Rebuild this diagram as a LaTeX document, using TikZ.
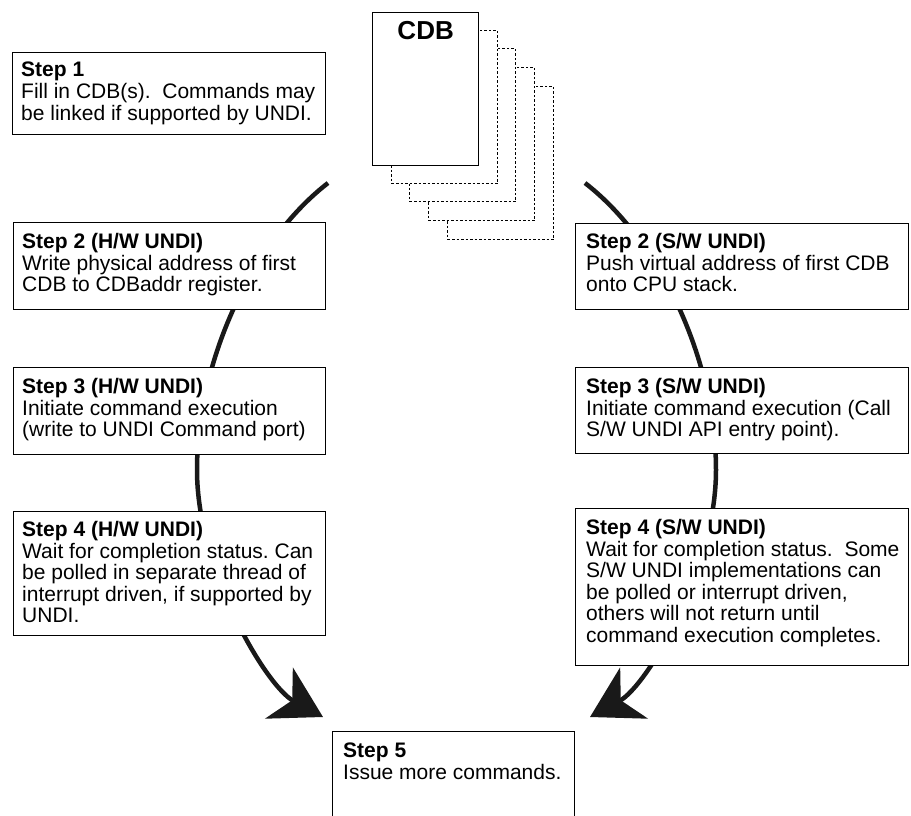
\documentclass[tikz,border=0pt]{standalone}
\usepackage{fontspec}
\setmainfont{Liberation Sans}
\usetikzlibrary{arrows.meta}
\frenchspacing
\begin{document}
\begin{tikzpicture}[x=1pt,y=-1pt,
  stepbox/.style={draw, line width=1.1pt, fill=white, inner sep=0pt, anchor=north west},
  steptext/.style={anchor=north west, inner sep=0pt, align=left, font=\fontsize{21}{21.6}\selectfont},
  page/.style={draw, line width=1.1pt, dash pattern=on 2.5pt off 2pt, fill=white, inner sep=0pt,
    anchor=north west, minimum width=106pt, minimum height=153pt},
  arc/.style={line width=4.5pt, draw=black!90},
  bigtip/.style={-{Stealth[length=50pt,width=58pt,inset=15pt]}}]
\useasboundingbox (0,0) rectangle (911,815);
% circular flow
\coordinate (la) at (328,183);
\coordinate (lm) at (197,470);
\coordinate (lt) at (323,717);
\coordinate (ra) at (585,183);
\coordinate (rm) at (716,470);
\coordinate (rt) at (590,717);
\draw[arc, bigtip] (la) .. controls (253,241) and (197,360) .. (lm)
  .. controls (197,570) and (266,686) .. (lt);
\draw[arc, bigtip] (ra) .. controls (660,241) and (716,360) .. (rm)
  .. controls (716,570) and (647,686) .. (rt);
% CDB stack
\node[page] (p5) at (447,86) {};
\node[page] (p4) at (428,67) {};
\node[page] (p3) at (409,48) {};
\node[page] (p2) at (391,30) {};
\node[page, solid, line width=1.3pt] (cdb) at (372,12) {};
\node[anchor=north, inner sep=0pt, font=\fontsize{26}{26}\bfseries\selectfont] (cdbt) at ([yshift=-9pt]cdb.north) {CDB};
% step boxes
\node[stepbox, minimum width=313pt, minimum height=82pt] (s1) at (12,52) {};
\node[steptext] (t1) at ([xshift=9pt,yshift=-10pt]s1.north west)
  {\textbf{Step 1}\\Fill in CDB(s).\ \ Commands may\\be linked if supported by UNDI.};
\node[stepbox, minimum width=312pt, minimum height=87pt] (h2) at (13,222) {};
\node[steptext] (th2) at ([xshift=9pt,yshift=-11pt]h2.north west)
  {\textbf{Step 2 (H/W UNDI)}\\Write physical address of first\\CDB to CDBaddr register.};
\node[stepbox, minimum width=312pt, minimum height=87pt] (h3) at (13,367) {};
\node[steptext] (th3) at ([xshift=9pt,yshift=-11pt]h3.north west)
  {\textbf{Step 3 (H/W UNDI)}\\Initiate command execution\\(write to UNDI Command port)};
\node[stepbox, minimum width=312pt, minimum height=124pt] (h4) at (13,511) {};
\node[steptext] (th4) at ([xshift=9pt,yshift=-10pt]h4.north west)
  {\textbf{Step 4 (H/W UNDI)}\\Wait for completion status. Can\\be polled in separate thread of\\interrupt driven, if supported by\\UNDI.};
\node[stepbox, minimum width=333pt, minimum height=86pt] (w2) at (575,223) {};
\node[steptext] (tw2) at ([xshift=11pt,yshift=-10pt]w2.north west)
  {\textbf{Step 2 (S/W UNDI)}\\Push virtual address of first CDB\\onto CPU stack.};
\node[stepbox, minimum width=333pt, minimum height=86pt] (w3) at (575,367) {};
\node[steptext] (tw3) at ([xshift=11pt,yshift=-11pt]w3.north west)
  {\textbf{Step 3 (S/W UNDI)}\\Initiate command execution (Call\\S/W UNDI API entry point).};
\node[stepbox, minimum width=333pt, minimum height=157pt] (w4) at (575,508) {};
\node[steptext] (tw4) at ([xshift=11pt,yshift=-11pt]w4.north west)
  {\textbf{Step 4 (S/W UNDI)}\\Wait for completion status.\ \ Some\\S/W UNDI implementations can\\be polled or interrupt driven,\\others will not return until\\command execution completes.};
\begin{scope}
\clip (0,0) rectangle (911,815);
\node[stepbox, minimum width=242pt, minimum height=120pt] (s5) at (332,731) {};
\end{scope}
\node[steptext] (t5) at ([xshift=11pt,yshift=-12pt]s5.north west)
  {\textbf{Step 5}\\Issue more commands.};
\end{tikzpicture}
\end{document}
